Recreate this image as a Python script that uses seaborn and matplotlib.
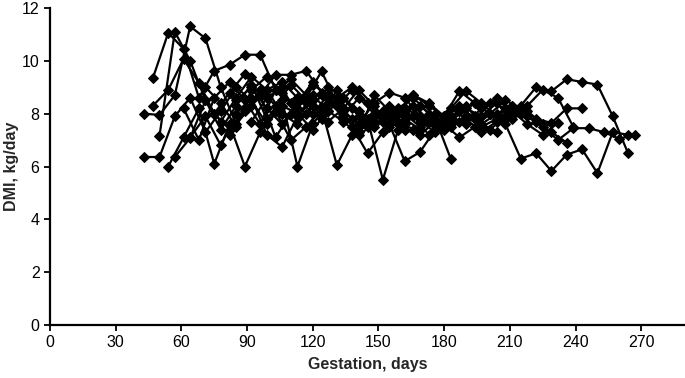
import numpy as np
import pandas as pd
import matplotlib
matplotlib.use("Agg")
import matplotlib.pyplot as plt
import seaborn as sns

# weekly weighing days (two offset schedules)
DAYS_A = [43, 50, 57, 64, 71, 78, 85, 92, 99, 106, 113, 120, 127, 134, 141, 148, 155,
          162, 169, 176, 183, 190, 197, 204, 211, 218, 225, 232, 239, 246, 253, 260, 267]
DAYS_B = [47, 54, 61, 68, 75, 82, 89, 96, 103, 110, 117, 124, 131, 138, 145, 152,
          159, 166, 173, 180, 187, 194, 201, 208, 215, 222, 229, 236, 243, 250, 257, 264]

N = None

# DMI, kg/day per cow (None = not recorded)
cow01 = [9.35, 11.06, 10.45, 8.6, 9.62, 9.85, 10.23, 10.23, 8.9, 8.4, 8.0, 8.7, 8.3, 7.8, 7.5, 8.1,
         7.7, 7.4, 7.9, 7.4, 7.7] + [N] * 11
cow02 = [8.0, 7.95, 8.7, 11.3, 10.85, 9.0, 7.6, 8.3, 8.9, 9.2, 8.6, 8.0, 8.7, 7.8, 7.5, 7.9, 7.6,
         8.1, 7.7, 7.3, 7.6, 7.9, 7.5, 7.8, 8.1, 7.6, 7.2, 7.65] + [N] * 5
cow03 = [8.3, 8.9, 10.07, 9.17, 8.0, 7.4, 8.2, 8.7, 9.47, 9.47, 9.62, 8.8, 8.3, 8.9, 8.4, 7.9,
         8.2, 8.6, 8.0, 7.7, 8.1, 8.4, 8.0, 7.8, 8.3, 9.0, 8.85, 9.3, 9.2, 9.1, 7.9, 6.5]
cow04 = [6.36, 6.36, 7.9, 8.6, 7.3, 8.1, 9.0, 8.5, 7.6, 8.3, 8.0, 7.4, 8.1, 7.7, 7.2, 7.6, 7.9,
         7.4, 7.2, 7.7, 7.5, 7.9, 7.6, 8.0, 8.3] + [N] * 8
cow05 = [N, 7.16, 11.1, 10.0, 8.5, 7.7, 8.6, 9.4, 8.9, 8.0, 7.6, 8.3, 9.0, 8.6, 8.1, 7.7, 8.3,
         8.0, 7.5, 7.8, 8.2, 8.86, 8.4, 7.9, 8.3, 7.9, 7.5, 7.0, 7.45, 7.45, 7.3, 7.05, 7.2]
cow06 = [N, 6.0, 7.1, 8.2, 6.1, 7.6, 6.0, 7.3, 8.1, 7.0, 7.5, 8.2, 6.05, 7.2, 7.8, 5.5, 7.4,
         7.9, 7.2, 7.6, 7.1, 7.5, 8.0, 7.6, 6.3, 6.5, 5.83, 6.45, 6.65, 5.75, 7.3, 7.2]
cow07 = [N, N, 6.36, 7.08, 8.5, 7.4, 8.3, 9.1, 7.8, 8.5, 6.0, 7.6, 8.4, 8.0, 7.3, 8.7, 8.1,
         7.6, 8.3, 7.8, 6.3] + [N] * 12
cow08 = [N, N, 8.2, 7.0, 8.6, 9.2, 8.5, 7.6, 8.9, 9.3, 8.7, 7.9, 8.6, 9.0, 8.4, 7.7, 8.1,
         8.7, 8.3, 7.9, 8.86, 8.4, 8.0, 8.5, 8.2, 7.8, 7.65, 8.2, 8.2] + [N] * 3
cow09 = [N, N, N, 7.1, 7.9, 6.8, 8.0, 8.6, 7.2, 6.74, 7.9, 8.5, 7.7, 8.2, 8.9, 8.3, 7.6,
         6.2, 6.55, 7.4, 7.9, 7.6, 8.2, 8.6, 8.0] + [N] * 8
cow10 = [N, N, N, N, 8.0, 8.8, 9.5, 8.7, 7.1, 8.0, 8.6, 9.6, 8.4, 7.5, 6.5, 7.3, 8.0,
         8.7, 8.4, 7.9, 8.3, 7.8, 8.4, 8.2, 8.0, 7.7, 7.3, 6.9] + [N] * 4
cow11 = [N, N, N, N, 9.0, 8.4, 7.5, 8.9, 9.4, 8.8, 8.2, 9.1, 8.7, 7.9, 8.6, 8.0, 7.5,
         8.2, 7.9, 7.4, 7.8, 8.3, 7.6, 7.3] + [N] * 9
cow12 = [N, N, N, N, N, N, 8.5, 9.0, 8.2, 7.6, 8.4, 9.2, 8.6, 8.1, 7.6, 8.4, 8.8,
         8.6, 7.9, 7.6, 8.2, 7.8, 7.3, 7.7, 8.0, 8.3, 8.9, 8.6, 7.5] + [N] * 4
cow13 = [N, N, N, N, N, 7.2, 8.1, 8.9, 8.3, 9.1, 8.5, 7.8, 8.9, 8.2, 7.6, 8.0, 7.6,
         8.3, 7.7, 7.5, 8.1, 7.9, 7.4, 7.9, 8.1] + [N] * 7
cow14 = [N, N, N, N, N, N, N, 7.7, 8.6, 9.0, 7.9, 8.7, 8.1, 8.6, 7.9, 7.5, 8.2,
         7.8, 7.4, 8.0, 7.7, 8.2, 7.9, 8.4, 7.8, 8.1, 7.6] + [N] * 6

COWS = {
    "cow01": (DAYS_B, cow01), "cow02": (DAYS_A, cow02), "cow03": (DAYS_B, cow03),
    "cow04": (DAYS_A, cow04), "cow05": (DAYS_A, cow05), "cow06": (DAYS_B, cow06),
    "cow07": (DAYS_A, cow07), "cow08": (DAYS_B, cow08), "cow09": (DAYS_A, cow09),
    "cow10": (DAYS_B, cow10), "cow11": (DAYS_A, cow11), "cow12": (DAYS_A, cow12),
    "cow13": (DAYS_B, cow13), "cow14": (DAYS_A, cow14),
}

frames = []
for name, (days, dmi) in COWS.items():
    frames.append(pd.DataFrame({"cow": name, "day": days, "dmi": dmi}))
df = pd.concat(frames, ignore_index=True).dropna()
df["dmi"] = df["dmi"].astype(float)

sns.set_style("white")
plt.rcParams["font.family"] = ["Liberation Sans", "DejaVu Sans"]

fig = plt.figure(figsize=(6.85, 3.78), dpi=100)
ax = fig.add_axes([0.073, 0.14, 0.927, 0.839])

sns.lineplot(data=df, x="day", y="dmi", units="cow", estimator=None,
             color="black", linewidth=1.6, marker="D", markersize=5,
             markeredgecolor="black", sort=False, legend=False, ax=ax)

ax.set_xlim(0, 290)
ax.set_ylim(0, 12)
ax.set_xticks(range(0, 271, 30))
ax.set_yticks(range(0, 13, 2))
ax.tick_params(axis="both", direction="out", length=4, width=1.3, labelsize=11.5,
               colors="black", bottom=True, left=True)
for side in ["top", "right"]:
    ax.spines[side].set_visible(False)
for side in ["left", "bottom"]:
    ax.spines[side].set_color("black")
    ax.spines[side].set_linewidth(1.6)

ax.set_xlabel("Gestation, days", fontsize=11.5, fontweight="bold", labelpad=5)
ax.set_ylabel("DMI, kg/day", fontsize=11.5, fontweight="bold", labelpad=2)

fig.savefig("out.png", dpi=100)
